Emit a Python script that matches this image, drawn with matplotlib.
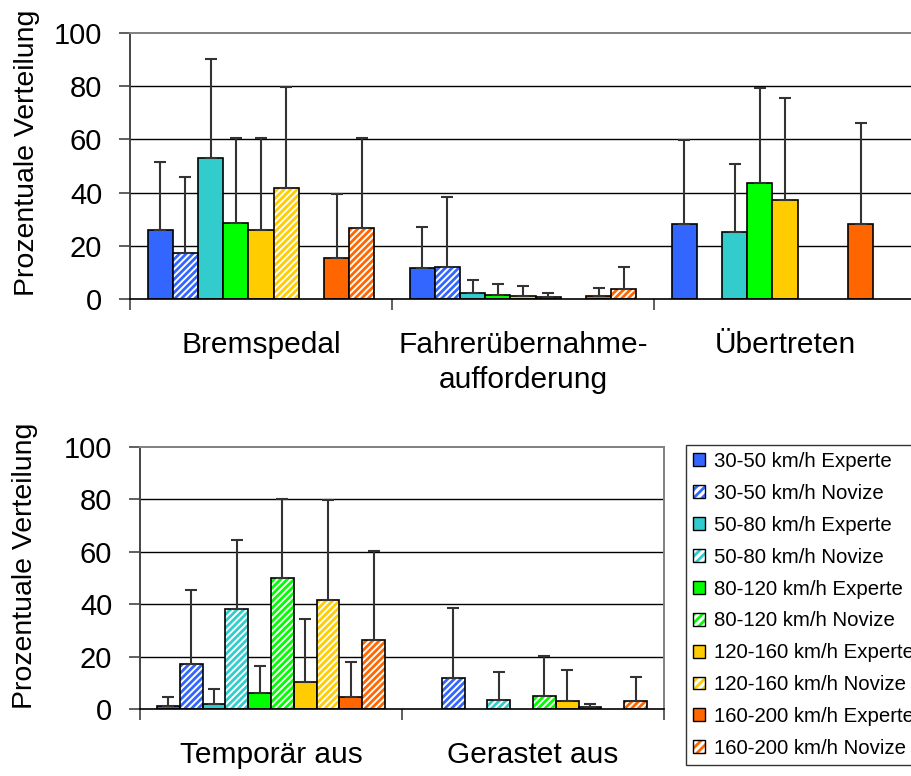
import numpy as np
import matplotlib
matplotlib.use("Agg")
import matplotlib.pyplot as plt
from matplotlib.patches import Patch
from matplotlib.legend_handler import HandlerTuple

plt.rcParams['font.family'] = ['Liberation Sans', 'DejaVu Sans']
plt.rcParams['hatch.linewidth'] = 2.0

nan = np.nan

# colours of the speed classes
BLUE = '#3366FF'
TEAL = '#33CCCC'
GREEN = '#00FF00'
YELLOW = '#FFCC00'
ORANGE = '#FF6600'

# bottom chart / legend series
series_names = ['30-50 km/h Experte', '30-50 km/h Novize',
                '50-80 km/h Experte', '50-80 km/h Novize',
                '80-120 km/h Experte', '80-120 km/h Novize',
                '120-160 km/h Experte', '120-160 km/h Novize',
                '160-200 km/h Experte', '160-200 km/h Novize']
series_colors = [BLUE, BLUE, TEAL, TEAL, GREEN, GREEN,
                 YELLOW, YELLOW, ORANGE, ORANGE]
series_hatched = [False, True] * 5

# top chart: 9 slots, slot 7 stays empty
top_colors = [BLUE, BLUE, TEAL, GREEN, YELLOW, YELLOW, None, ORANGE, ORANGE]
top_hatched = [False, True, False, False, False, True, False, False, True]

top_categories = ['Bremspedal', 'Fahrerübernahme-\naufforderung', 'Übertreten']
bremspedal = [26.0, 17.3, 52.9, 28.5, 26.0, 41.9, nan, 15.3, 26.6]
bremspedal_sd = [25.6, 28.7, 37.2, 31.9, 34.4, 37.9, nan, 24.1, 33.8]
uebernahme = [11.5, 12.1, 2.4, 1.5, 1.1, 0.6, nan, 1.1, 3.6]
uebernahme_sd = [15.6, 26.3, 4.6, 4.2, 3.8, 1.5, nan, 2.9, 8.4]
uebertreten = [28.1, nan, 25.2, 43.7, 37.2, nan, nan, 28.1, nan]
uebertreten_sd = [31.6, nan, 25.5, 35.6, 38.4, nan, nan, 38.0, nan]

bottom_categories = ['Temporär aus', 'Gerastet aus']
temporaer = [1.1, 17.1, 1.9, 38.1, 6.1, 49.9, 10.2, 41.5, 4.6, 26.4]
temporaer_sd = [3.5, 28.5, 5.7, 26.4, 10.5, 30.3, 24.3, 38.1, 13.2, 34.0]
gerastet = [nan, 11.8, nan, 3.6, nan, 4.8, 2.9, 0.8, nan, 3.0]
gerastet_sd = [nan, 26.8, nan, 10.6, nan, 15.5, 11.8, 1.2, nan, 9.1]


def draw_group_bars(ax, values, sds, colors, hatched, total=0.865):
    '''Draws clustered bars with upward error bars.'''
    values = np.array(values, dtype=float)
    sds = np.array(sds, dtype=float)
    ncat, nser = values.shape
    w = total / nser
    pad = (1 - total) / 2
    for j in range(nser):
        col = colors[j]
        if col is None:
            continue
        x = np.arange(ncat) + pad + (j + 0.5) * w
        h = values[:, j]
        if hatched[j]:
            ax.bar(x, h, w, color='white', edgecolor=col, hatch='/////',
                   linewidth=0, zorder=2)
            ax.bar(x, h, w, fill=False, edgecolor='black', linewidth=1.2,
                   zorder=3)
        else:
            ax.bar(x, h, w, color=col, edgecolor='black', linewidth=1.2,
                   zorder=2)
        err = sds[:, j]
        ax.errorbar(x, h, yerr=[np.zeros(ncat), err], fmt='none',
                    ecolor='#333333', elinewidth=1.5, capsize=4.2,
                    capthick=1.5, zorder=4)


def style_axes(ax, categories):
    '''Excel like look of the axes.'''
    n = len(categories)
    ax.set_xlim(0, n)
    ax.set_ylim(0, 100)
    ax.set_yticks(range(0, 101, 20))
    for y in range(20, 100, 20):
        ax.axhline(y, color='black', linewidth=1.0, zorder=1)
    ax.set_xticks(range(n + 1))
    ax.set_xticklabels([])
    ax.set_xticks(np.arange(n) + 0.5, minor=True)
    ax.set_xticklabels(categories, minor=True, fontsize=21.5, linespacing=1.3,
                       va='top')
    ax.tick_params(axis='x', which='minor', length=0, pad=23)
    ax.tick_params(axis='x', which='major', length=8, width=1.2,
                   color='#444444')
    ax.tick_params(axis='y', length=8, width=1.2, color='#444444',
                   labelsize=21, pad=12)
    ax.spines['left'].set_color('#444444')
    ax.spines['left'].set_linewidth(1.4)
    ax.spines['bottom'].set_color('black')
    ax.spines['bottom'].set_linewidth(1.2)
    ax.spines['top'].set_color('#808080')
    ax.spines['top'].set_linewidth(1.4)
    ax.spines['right'].set_color('#808080')
    ax.spines['right'].set_linewidth(1.4)


W, H = 912, 776
fig = plt.figure(figsize=(W / 100, H / 100), dpi=100)

ax1 = fig.add_axes([130 / W, 1 - 299 / H, (916 - 130) / W, (299 - 33) / H])
draw_group_bars(ax1, [bremspedal, uebernahme, uebertreten],
                [bremspedal_sd, uebernahme_sd, uebertreten_sd],
                top_colors, top_hatched)
style_axes(ax1, top_categories)

ax2 = fig.add_axes([140 / W, 1 - 709 / H, (664 - 140) / W, (709 - 447) / H])
draw_group_bars(ax2, [temporaer, gerastet], [temporaer_sd, gerastet_sd],
                series_colors, series_hatched, total=0.87)
style_axes(ax2, bottom_categories)

fig.text(27 / W, 1 - 153 / H, 'Prozentuale Verteilung', rotation=90,
         ha='center', va='center', fontsize=20.5)
fig.text(25 / W, 1 - 566 / H, 'Prozentuale Verteilung', rotation=90,
         ha='center', va='center', fontsize=20.5)

handles = []
for col, hat in zip(series_colors, series_hatched):
    if hat:
        handles.append((Patch(facecolor='white', edgecolor=col, hatch='////',
                              linewidth=0),
                        Patch(fill=False, edgecolor='black', linewidth=1.0)))
    else:
        handles.append(Patch(facecolor=col, edgecolor='black', linewidth=1.0))

leg = fig.legend(handles, series_names, loc='upper left',
                 bbox_to_anchor=(686 / W, 1 - 445 / H), fontsize=14.7,
                 frameon=True, fancybox=False, edgecolor='black',
                 handlelength=0.6, handleheight=0.6, handletextpad=0.4,
                 labelspacing=0.63, borderpad=0.35, borderaxespad=0,
                 handler_map={tuple: HandlerTuple(ndivide=1, pad=0)})
leg.get_frame().set_linewidth(1.0)

fig.savefig('out.png', dpi=100)
